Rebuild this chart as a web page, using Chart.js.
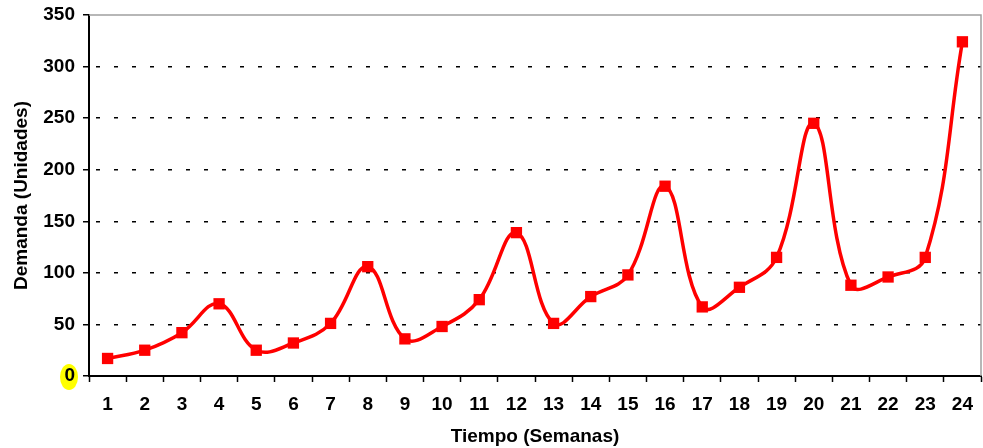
<!DOCTYPE html>
<html>
<head>
<meta charset="utf-8">
<script src="https://cdn.jsdelivr.net/npm/chart.js@4/dist/chart.umd.min.js"></script>
<style>
html,body{margin:0;padding:0;background:#fff;}
#wrap{width:983px;height:448px;position:relative;}
</style>
</head>
<body>
<div id="wrap"><canvas id="c" width="983" height="448"></canvas></div>
<script>
const weeks = ['1','2','3','4','5','6','7','8','9','10','11','12','13','14','15','16','17','18','19','20','21','22','23','24'];
const demand = [17, 25, 42, 70, 25, 32, 51, 106, 36, 48, 74, 139, 51, 77, 98, 184, 67, 86, 115, 245, 88, 96, 115, 324];
const yTicks = [0, 50, 100, 150, 200, 250, 300, 350];
const xTitle = 'Tiempo (Semanas)';
const yTitle = 'Demanda (Unidades)';

const FONT = "'Liberation Sans', Arial, sans-serif";

const decor = {
  id: 'decor',
  beforeDraw(chart) {
    const ctx = chart.ctx, y = chart.scales.y;
    const py = y.getPixelForValue(0);
    ctx.save();
    ctx.fillStyle = '#ffff00';
    ctx.beginPath();
    ctx.ellipse(y.right - 20, py + 1, 9, 13, 0, 0, Math.PI * 2);
    ctx.fill();
    ctx.restore();
  },
  afterDatasetsDraw(chart) {
    const ctx = chart.ctx, a = chart.chartArea;
    ctx.save();
    ctx.strokeStyle = '#a0a0a0';
    ctx.lineWidth = 1.5;
    ctx.beginPath();
    ctx.moveTo(a.left, a.top);
    ctx.lineTo(a.right, a.top);
    ctx.lineTo(a.right, a.bottom);
    ctx.stroke();
    ctx.restore();
  }
};

new Chart(document.getElementById('c'), {
  type: 'line',
  data: {
    labels: weeks,
    datasets: [{
      data: demand,
      borderColor: '#ff0000',
      backgroundColor: '#ff0000',
      borderWidth: 3.5,
      tension: 0.4,
      pointStyle: 'rect',
      pointRadius: 8,
      pointBorderWidth: 0,
      pointBackgroundColor: '#ff0000',
      fill: false,
      clip: false
    }]
  },
  options: {
    responsive: false,
    animation: false,
    layout: { autoPadding: false, padding: { top: 15, right: 2, left: 0, bottom: 0 } },
    plugins: { legend: { display: false }, tooltip: { enabled: false } },
    scales: {
      x: {
        type: 'category',
        offset: true,
        grid: { offset: true, drawOnChartArea: false, tickLength: 6, tickColor: '#000', tickWidth: 1.5 },
        border: { color: '#000', width: 2 },
        ticks: { color: '#000', font: { family: FONT, size: 19, weight: 'bold' }, padding: 11, maxRotation: 0, autoSkip: false },
        title: { display: true, text: xTitle, color: '#000', font: { family: FONT, size: 19, weight: 'bold' }, padding: { top: 4, bottom: 0 } },
        afterFit(s) { s.height = 72; s.paddingLeft = 0; s.paddingRight = 0; }
      },
      y: {
        min: 0, max: 350,
        afterBuildTicks(s) { s.ticks = yTicks.map(v => ({ value: v })); },
        grid: {
          color: ctx => (ctx.tick && (ctx.tick.value === 0 || ctx.tick.value === 350)) ? 'rgba(0,0,0,0)' : '#000',
          lineWidth: 1.5,
          tickLength: 6, tickColor: '#000', tickWidth: 1.5
        },
        border: { color: '#000', width: 2, dash: [4, 14], dashOffset: -6 },
        ticks: { color: '#000', font: { family: FONT, size: 19, weight: 'bold' }, padding: 8 },
        title: { display: true, text: yTitle, color: '#000', font: { family: FONT, size: 19, weight: 'bold' }, padding: { top: 10, bottom: 6 } },
        afterFit(s) { s.width = 89; s.paddingTop = 0; s.paddingBottom = 0; }
      }
    }
  },
  plugins: [decor]
});
</script>
</body>
</html>
